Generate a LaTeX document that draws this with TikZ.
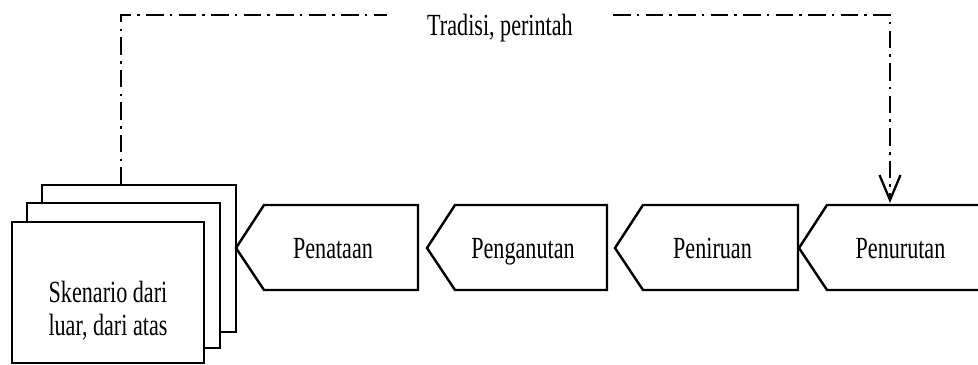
\documentclass[tikz,border=0pt]{standalone}
\usepackage{fontspec}
\setmainfont{Liberation Serif}[FakeStretch=0.72]
\usetikzlibrary{arrows.meta}
\begin{document}
\begin{tikzpicture}[x=0.02cm,y=-0.02cm,
    box/.style={draw, line width=1.4pt, fill=white},
    lbl/.style={font=\fontsize{17.5}{18.6}\selectfont, inner sep=0pt},
    flow/.style={line width=1.6pt, dash pattern=on 10pt off 3.5pt on 1.5pt off 3.5pt}]
\useasboundingbox (0,0) rectangle (978,365);
\clip (0,0) rectangle (978,365);

% tumpukan skenario
\draw[box] (42,185) rectangle (236,332);
\draw[box] (27,203) rectangle (220,348);
\draw[box] (12,222) rectangle (204,363);
\node[lbl, align=center] (sken) at (108,311) {Skenario dari\\luar, dari atas};
\coordinate (atas) at (121,185);

% tahap-tahap
\foreach \tip/\rt/\nm/\txt in {236/418/tata/Penataan, 427/607/anut/Penganutan,
    615/798/tiru/Peniruan, 799/990/turut/Penurutan} {
  \draw[box] (\tip,248) -- (\tip+28,205) -- (\rt,205) -- (\rt,290) -- (\tip+28,290) -- cycle;
  \node[lbl, anchor=base] (\nm) at ({(\tip+\rt)/2+6},258) {\txt};
}
\coordinate (turun) at (890,203);

% jalur tradisi
\coordinate (kiri) at (121,15);
\coordinate (kanan) at (890,15);
\node[lbl, anchor=base, inner xsep=0.8cm] (tradisi) at (500,35) {Tradisi, perintah};
\draw[flow] (atas) -- (kiri) -- (tradisi.west |- kiri);
\draw[flow, -{Straight Barb[length=0.5cm, width=0.42cm, line width=1.3pt]}]
    (tradisi.east |- kanan) -- (kanan) -- (turun);
\end{tikzpicture}
\end{document}
